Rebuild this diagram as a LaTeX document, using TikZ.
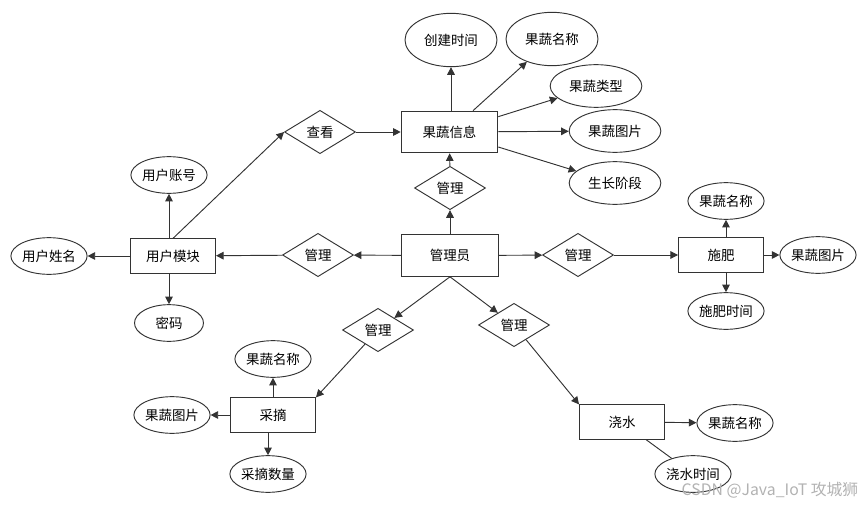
\documentclass[tikz,border=0pt]{standalone}
\usepackage{fontspec}
\newfontfamily\cjk{Noto Sans CJK SC}
\usetikzlibrary{arrows.meta,shapes.geometric}

\tikzset{
  entity/.style={draw=black!80,rectangle,minimum width=2.55cm,minimum height=1.03cm},
  bigentity/.style={entity,minimum width=2.9cm,minimum height=1.25cm},
  attr/.style={draw=black!80,ellipse,inner sep=0pt,minimum width=2.07cm,minimum height=1.1cm},
  wideattr/.style={attr,minimum width=2.75cm,minimum height=1.28cm},
  tallattr/.style={attr,minimum width=2.76cm,minimum height=1.6cm},
  rel/.style={draw=black!80,diamond,inner sep=0pt,minimum width=2.13cm,minimum height=1.3cm},
}

\begin{document}
\begin{tikzpicture}[x=0.03cm,y=-0.03cm,->,>={Triangle[length=6.5pt,width=6.5pt]},
    line width=0.8pt,draw=black!80,font=\cjk\fontsize{11.5}{13}\selectfont]
  \useasboundingbox (0,0) rectangle (865,506);
  % entities
  \node[bigentity](info)at(449.5,132){果蔬信息};
  \node[bigentity](admin)at(450,255.5){管理员};
  \node[entity](user)at(173,256){用户模块};
  \node[entity](fert)at(721,255){施肥};
  \node[entity](pick)at(273,415){采摘};
  \node[entity](water)at(622,422){浇水};
  % relations
  \node[rel](look)at(320,132){查看};
  \node[rel](m1)at(450,188){管理};
  \node[rel](m2)at(318,255){管理};
  \node[rel](m3)at(578,255){管理};
  \node[rel](m4)at(378,330){管理};
  \node[rel](m5)at(514,325){管理};
  % attributes
  \node[tallattr](ctime)at(451,40){创建时间};
  \node[tallattr](iname)at(552,39){果蔬名称};
  \node[wideattr](itype)at(596,86){果蔬类型};
  \node[wideattr](ipic)at(615,131){果蔬图片};
  \node[wideattr](stage)at(615,183){生长阶段};
  \node[attr](uacc)at(169,175){用户账号};
  \node[attr](uname)at(49,256){用户姓名};
  \node[attr](upwd)at(169,323){密码};
  \node[attr](fname)at(726,201){果蔬名称};
  \node[attr](fpic)at(818,255){果蔬图片};
  \node[attr](ftime)at(726,311){施肥时间};
  \node[attr](pname)at(273,359){果蔬名称};
  \node[attr](ppic)at(172,415){果蔬图片};
  \node[attr](pnum)at(268,474){采摘数量};
  \node[attr](wname)at(735,423){果蔬名称};
  \node[attr](wtime)at(693,474){浇水时间};
  \path[]
  (uacc |- user.north) edge (uacc)
  (user) edge (uname)
  (upwd |- user.south) edge (upwd)
  (user.north) edge (look.west)
  (look) edge (info)
  (ctime |- info.north) edge (ctime)
  (info) edge (iname)
  (info) edge (itype)
  (info) edge (ipic)
  (info) edge (stage)
  (admin) edge (m1)
  (m1) edge (info)
  (admin) edge (m2)
  (m2) edge (user)
  (admin) edge (m3)
  (m3) edge (fert)
  (admin.south) edge (m4)
  (m4) edge (pick.north east)
  (admin.south) edge (m5)
  (m5) edge (water.north west)
  (fname |- fert.north) edge (fname)
  (fert) edge (fpic)
  (ftime |- fert.south) edge (ftime)
  (pick) edge (pname)
  (pick) edge (ppic)
  (pnum |- pick.south) edge (pnum)
  (water) edge (wname)
  (water) edge[-] (wtime);
  % watermark
  \node[text=black!30,font=\cjk\fontsize{13.5}{15}\selectfont](mark)at(770,490){CSDN @Java\_IoT 攻城狮};
\end{tikzpicture}
\end{document}
